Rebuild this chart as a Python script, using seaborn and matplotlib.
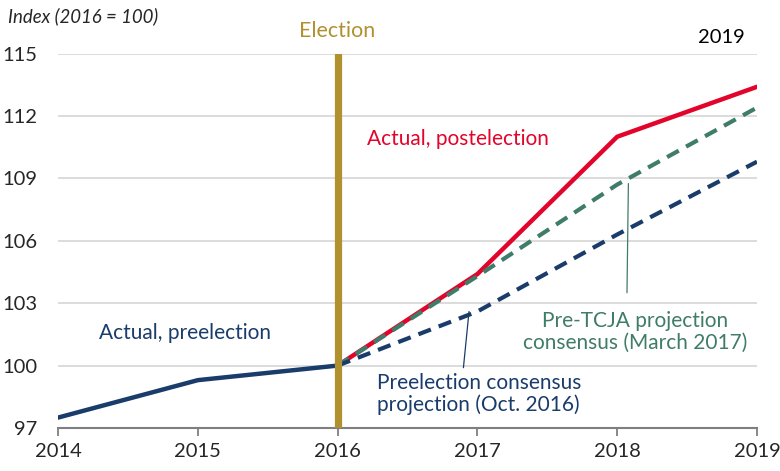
import numpy as np
import pandas as pd
import matplotlib
matplotlib.use('Agg')
import matplotlib.pyplot as plt
import seaborn as sns

# values (index, 2016 = 100)
years_pre = [2014, 2015, 2016]
actual_pre = [97.5, 99.3, 100.0]
years_post = [2016, 2017, 2018, 2019]
actual_post = [100.0, 104.4, 111.0, 113.4]
pretcja_proj = [100.0, 104.3, 108.7, 112.4]
preelect_proj = [100.0, 102.6, 106.3, 109.8]
yticks = [97, 100, 103, 106, 109, 112, 115]
xticks = [2014, 2015, 2016, 2017, 2018, 2019]

navy = '#1a3c6b'
red = '#e2042b'
green = '#3f7c69'
gold = '#b0902f'

sns.set_style('white')
plt.rcParams['font.family'] = ['Lato', 'DejaVu Sans']

fig = plt.figure(figsize=(7.8, 4.71), dpi=100)
ax = fig.add_axes([0.0744, 0.0913, 0.8961, 0.7951])

for y in yticks[1:]:
    ax.axhline(y, color='#d9d9d9', lw=1.3, zorder=0)

sns.lineplot(x=years_pre, y=actual_pre, color=navy, lw=3.2, ax=ax, zorder=3)
sns.lineplot(x=years_post, y=actual_post, color=red, lw=3.2, ax=ax, zorder=3)
sns.lineplot(x=years_post, y=pretcja_proj, color=green, lw=3.0, ax=ax, zorder=4)
ax.lines[-1].set_dashes((3.2, 2.0))
sns.lineplot(x=years_post, y=preelect_proj, color=navy, lw=3.0, ax=ax, zorder=4)
ax.lines[-1].set_dashes((3.2, 2.0))

ax.axvline(2016, color=gold, lw=5.2, zorder=5)

# pointer lines
ax.plot([2018.08, 2018.07], [108.75, 103.5], color=green, lw=0.9, zorder=2)
ax.plot([2016.94, 2016.9], [102.6, 99.9], color=navy, lw=0.9, zorder=2)

fs = 15
ax.text(2016.86, 110.9, 'Actual, postelection', color=red, fontsize=fs, ha='center', va='center')
ax.text(2014.91, 101.56, 'Actual, preelection', color=navy, fontsize=fs, ha='center', va='center')
ax.text(2018.13, 101.6, 'Pre-TCJA projection\nconsensus (March 2017)', color=green, fontsize=fs,
        ha='center', va='center', linespacing=1.1)
ax.text(2017.01, 98.63, 'Preelection consensus\nprojection (Oct. 2016)', color=navy, fontsize=fs,
        ha='center', va='center', linespacing=1.1)
ax.text(2016, 116.1, 'Election', color=gold, fontsize=15.4, ha='center', va='center')
ax.text(2018.91, 115.75, '2019', color='black', fontsize=14.5, ha='right', va='center')
fig.text(0.01, 0.965, 'Index (2016 = 100)', fontsize=13.4, style='italic', ha='left', va='center')

ax.set_xlim(2014, 2019)
ax.set_ylim(97, 115)
ax.set_xticks(xticks)
ax.set_yticks(yticks)
ax.set_xticklabels([str(x) for x in xticks], fontsize=14.5)
ax.set_yticklabels([str(y) for y in yticks], fontsize=14.5)
ax.tick_params(axis='x', direction='out', length=6, width=1.3, color='#7f7f7f', pad=5, bottom=True)
ax.tick_params(axis='y', length=0, pad=15)
for lab in ax.get_yticklabels():
    lab.set_horizontalalignment('right')

for s in ['top', 'right', 'left']:
    ax.spines[s].set_visible(False)
ax.spines['bottom'].set_color('#7f7f7f')
ax.spines['bottom'].set_linewidth(1.5)
ax.set_xlabel('')
ax.set_ylabel('')

fig.savefig('out.png', dpi=100)
